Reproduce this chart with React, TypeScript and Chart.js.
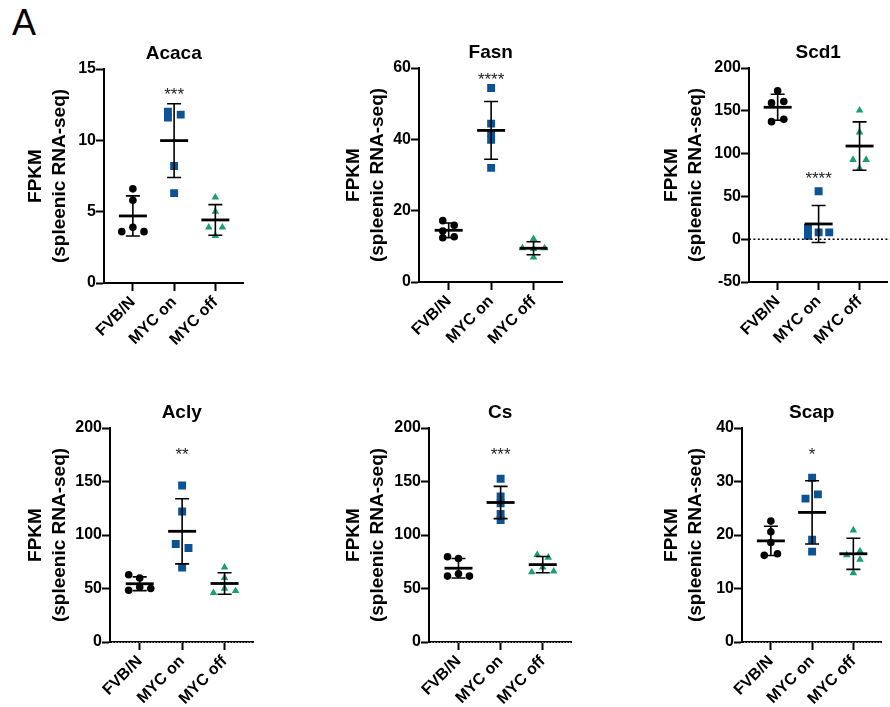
import React, { useEffect, useRef } from "react";
import { Chart, registerables } from "chart.js";

Chart.register(...registerables);
Chart.defaults.font.family = '"Liberation Sans", Arial, Helvetica, sans-serif';

// ---------------- DATA ----------------
const categories = ["FVB/N", "MYC on", "MYC off"];
const genes = ["Acaca", "Fasn", "Scd1", "Acly", "Cs", "Scap"];

const acacaValues = [
  [6.6, 5.8, 3.9, 3.6, 3.6],
  [12.0, 11.8, 11.6, 8.2, 6.3],
  [6.0, 5.0, 3.9, 3.9, 3.3],
];
const acacaJitter = [
  [0, 0, 0, -0.27, 0.27],
  [-0.15, 0.16, -0.15, 0, 0],
  [0, 0, -0.16, 0.17, 0],
];

const fasnValues = [
  [17.2, 15.9, 14.3, 12.4, 12.7],
  [54.4, 44.4, 41.8, 39.9, 32.0],
  [12.1, 9.5, 9.5, 9.3, 6.9],
];
const fasnJitter = [
  [-0.14, 0.13, -0.14, -0.14, 0.13],
  [0, 0, 0, 0, 0],
  [0, -0.26, 0.26, 0, 0],
];

const scd1Values = [
  [173.3, 159.2, 160.8, 137.3, 140.0],
  [56, 13, 4, 8, 8],
  [150.6, 125, 92.9, 92.9, 82.7],
];
const scd1Jitter = [
  [0, -0.15, 0.15, -0.15, 0.15],
  [0, -0.26, -0.26, 0, 0.26],
  [0, 0, -0.16, 0.16, 0],
];

const aclyValues = [
  [62.8, 59.7, 51.3, 48.4, 50.0],
  [146.3, 121.9, 91.6, 87.8, 69.7],
  [69.7, 60.0, 50.0, 45.9, 47.8],
];
const aclyJitter = [
  [-0.26, 0, 0, -0.26, 0.26],
  [0, 0, -0.15, 0.15, 0],
  [0, 0, 0, -0.26, 0.26],
];

const csValues = [
  [79.7, 78.1, 61.6, 63.8, 61.6],
  [152.5, 136.0, 129.7, 119.7, 114.0],
  [81.6, 79.0, 69.7, 65.3, 66.0],
];
const csJitter = [
  [-0.26, 0, -0.26, 0, 0.26],
  [0, 0, 0, 0, 0],
  [-0.13, 0.13, 0, -0.26, 0.26],
];

const scapValues = [
  [22.6, 20.6, 18.6, 16.2, 16.5],
  [30.7, 27.6, 26.8, 19.1, 16.9],
  [20.9, 17.0, 16.25, 15.4, 12.9],
];
const scapJitter = [
  [0, 0, 0, -0.16, 0.16],
  [0, 0.14, -0.16, 0, 0],
  [0, 0.16, -0.16, 0.16, 0],
];

const allValues = [acacaValues, fasnValues, scd1Values, aclyValues, csValues, scapValues];
const allJitter = [acacaJitter, fasnJitter, scd1Jitter, aclyJitter, csJitter, scapJitter];

const yMins = [0, 0, -50, 0, 0, 0];
const yMaxs = [15, 60, 200, 200, 200, 40];
const ySteps = [5, 20, 50, 50, 50, 10];
const starLabels = ["***", "****", "****", "**", "***", "*"];
const starHeights = [13.5, 58, 76, 179, 179, 35.9];
const yAxisTitle = ["FPKM", "(spleenic RNA-seq)"];

// ---------------- STYLE / LAYOUT ----------------
const groupColors = ["#000000", "#0b5394", "#1b9e77"];
const groupStyles = ["circle", "rect", "triangle"];
const groupRadius = [3.8, 5.6, 4.4];
const zeroStyles = ["none", "none", "dotted", "hatch", "hatch", "hatch"];

const plotBoxes = [
  { left: 104, right: 245, top: 69, bottom: 283, col: 0 },
  { left: 419, right: 564, top: 68, bottom: 282, col: 1 },
  { left: 749, right: 889, top: 68, bottom: 282, col: 2 },
  { left: 110, right: 255, top: 428, bottom: 642, col: 0 },
  { left: 429, right: 573, top: 428, bottom: 642, col: 1 },
  { left: 742, right: 883, top: 428, bottom: 642, col: 2 },
];
const colCanvasLeft = [15, 333, 651];
const TITLE_BOX = 27;
const X_AXIS_H = 75;
const PAD_RIGHT = 4;
const X_MIN = 0.3;
const X_MAX = 3.68;

const mean = (v: number[]) => v.reduce((a, b) => a + b, 0) / v.length;
const sdev = (v: number[]) => {
  const m = mean(v);
  return Math.sqrt(v.reduce((a, b) => a + (b - m) * (b - m), 0) / (v.length - 1));
};

function Panel({ idx }: { idx: number }) {
  const ref = useRef<HTMLCanvasElement | null>(null);
  const box = plotBoxes[idx];
  const cLeft = colCanvasLeft[box.col];
  const cTop = box.top - TITLE_BOX;
  const cW = box.right + PAD_RIGHT - cLeft;
  const cH = box.bottom - cTop + X_AXIS_H;
  const yAxisW = box.left - cLeft;

  useEffect(() => {
    if (!ref.current) return;
    const values = allValues[idx];
    const jitter = allJitter[idx];

    const datasets = values.map((vals, g) => ({
      label: categories[g],
      data: vals.map((v, i) => ({ x: g + 1 + jitter[g][i], y: v })),
      pointStyle: groupStyles[g],
      pointRadius: groupRadius[g],
      backgroundColor: groupColors[g],
      borderColor: groupColors[g],
      borderWidth: 0,
      showLine: false,
    }));

    const overlay = {
      id: "overlay" + idx,
      afterDatasetsDraw(chart: any) {
        const { ctx, chartArea } = chart;
        const x = chart.scales.x;
        const y = chart.scales.y;
        ctx.save();
        // zero line
        const zs = zeroStyles[idx];
        if (zs !== "none") {
          const y0 = y.getPixelForValue(0);
          ctx.beginPath();
          if (zs === "dotted") {
            ctx.strokeStyle = "#000";
            ctx.lineWidth = 1.5;
            ctx.setLineDash([2, 2.4]);
            ctx.moveTo(chartArea.left, y0);
            ctx.lineTo(chartArea.right + 4, y0);
          } else {
            ctx.strokeStyle = "rgba(170,170,170,0.9)";
            ctx.lineWidth = 1;
            ctx.setLineDash([1.5, 1.5]);
            ctx.moveTo(chartArea.left + 2, y0 + 0.5);
            ctx.lineTo(chartArea.right, y0 + 0.5);
          }
          ctx.stroke();
          ctx.setLineDash([]);
        }
        // error bars (mean ± SD)
        ctx.strokeStyle = "#000";
        values.forEach((vals, g) => {
          const m = mean(vals);
          const s = sdev(vals);
          const cx = x.getPixelForValue(g + 1);
          const yHi = y.getPixelForValue(m + s);
          const yLo = y.getPixelForValue(m - s);
          const yM = y.getPixelForValue(m);
          ctx.lineWidth = 1.6;
          ctx.beginPath();
          ctx.moveTo(cx, yHi);
          ctx.lineTo(cx, yLo);
          ctx.moveTo(cx - 7, yHi);
          ctx.lineTo(cx + 7, yHi);
          ctx.moveTo(cx - 7, yLo);
          ctx.lineTo(cx + 7, yLo);
          ctx.stroke();
          ctx.lineWidth = 2.8;
          ctx.beginPath();
          ctx.moveTo(cx - 14, yM);
          ctx.lineTo(cx + 14, yM);
          ctx.stroke();
        });
        // significance stars
        const fs = 17;
        ctx.font = `${fs}px "Liberation Sans", Arial, sans-serif`;
        ctx.fillStyle = "#222";
        ctx.textAlign = "center";
        ctx.textBaseline = "alphabetic";
        ctx.fillText(
          starLabels[idx],
          x.getPixelForValue(2),
          y.getPixelForValue(starHeights[idx]) + 0.58 * fs
        );
        ctx.restore();
      },
    };

    const axisCommon = {
      grid: {
        display: true,
        drawOnChartArea: false,
        drawTicks: true,
        tickLength: 8,
        tickWidth: 2,
        tickColor: "#000",
      },
      border: { display: true, color: "#000", width: 2 },
    };

    const chart = new Chart(ref.current, {
      type: "scatter",
      data: { datasets: datasets as any },
      options: {
        animation: false,
        responsive: false,
        maintainAspectRatio: false,
        devicePixelRatio: 1,
        layout: { padding: { left: 0, right: PAD_RIGHT, top: 0, bottom: 0 } },
        events: [],
        plugins: {
          legend: { display: false },
          tooltip: { enabled: false },
          title: {
            display: true,
            text: genes[idx],
            color: "#000",
            fullSize: false,
            font: { size: 19, weight: "bold", lineHeight: 1.2 },
            padding: { top: 0, bottom: TITLE_BOX - 22.8 },
          },
        },
        scales: {
          x: {
            type: "linear",
            min: X_MIN,
            max: X_MAX,
            afterBuildTicks: (s: any) => {
              s.ticks = categories.map((_, i) => ({ value: i + 1 }));
            },
            afterFit: (s: any) => {
              s.height = X_AXIS_H;
            },
            ticks: {
              autoSkip: false,
              minRotation: 45,
              maxRotation: 45,
              padding: 2,
              color: "#000",
              font: { size: 16, weight: "bold" },
              callback: (v: any) => categories[Math.round(Number(v)) - 1] ?? "",
            },
            ...axisCommon,
          },
          y: {
            type: "linear",
            min: yMins[idx],
            max: yMaxs[idx],
            afterFit: (s: any) => {
              s.width = yAxisW;
            },
            ticks: {
              stepSize: ySteps[idx],
              padding: 0,
              color: "#000",
              font: { size: 16, weight: "bold" },
            },
            title: {
              display: true,
              text: yAxisTitle,
              color: "#000",
              font: { size: 19, weight: "bold", lineHeight: 1.3 },
              padding: { top: 8, bottom: 0 },
            },
            ...axisCommon,
          },
        },
      } as any,
      plugins: [overlay],
    });
    return () => chart.destroy();
  }, [idx]);

  return (
    <canvas
      ref={ref}
      width={cW}
      height={cH}
      style={{ position: "absolute", left: cLeft, top: cTop, width: cW, height: cH }}
    />
  );
}

export default function App() {
  return (
    <div
      style={{
        position: "absolute",
        left: 0,
        top: 0,
        width: 890,
        height: 707,
        overflow: "hidden",
        background: "#fff",
      }}
    >
      <div
        style={{
          position: "absolute",
          left: 12,
          top: 5,
          fontFamily: '"Liberation Sans", Arial, sans-serif',
          fontSize: 36,
          lineHeight: "36px",
          color: "#000",
        }}
      >
        A
      </div>
      {genes.map((g, i) => (
        <Panel key={g} idx={i} />
      ))}
    </div>
  );
}
